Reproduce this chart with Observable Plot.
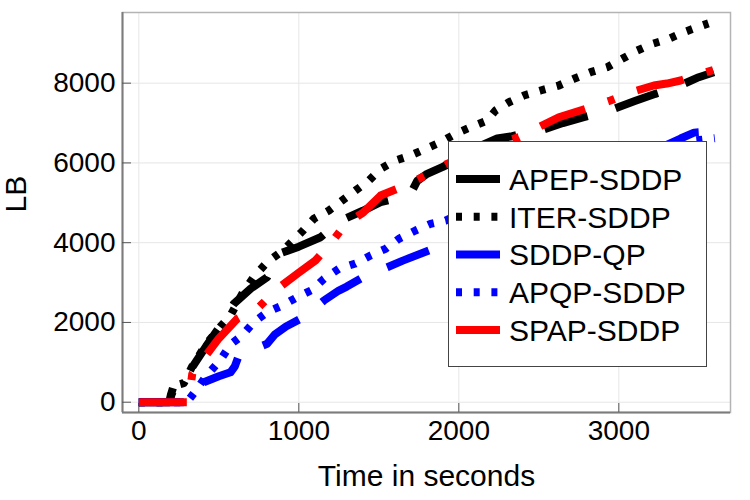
<!DOCTYPE html>
<html><head><meta charset="utf-8">
<script src="https://cdn.jsdelivr.net/npm/d3@7"></script>
<script src="https://cdn.jsdelivr.net/npm/@observablehq/plot@0.6"></script>
<style>
body{margin:0;background:#fff;font-family:"Liberation Sans",Arial,sans-serif;}
#wrap{position:relative;width:750px;height:500px;overflow:hidden;}
#legend{position:absolute;left:448px;top:141px;width:257px;height:224px;background:#fff;border:1.5px solid #444;}
</style></head><body><div id="wrap"></div>
<script>
const seriesNames = ["APEP-SDDP", "ITER-SDDP", "SDDP-QP", "APQP-SDDP", "SPAP-SDDP"];
const seriesColors = ["#000000", "#000000", "#0000ff", "#0000ff", "#ff0000"];
const seriesDash = ["45,29", "6,11.7", "45,29", "6,11.7", "48,24,7,24"];

const xTicks = [0, 1000, 2000, 3000];
const yTicks = [0, 2000, 4000, 6000, 8000];

const apepT = [0,190,200,215,260,334,420,511,550,594,700,802,840,876,1000,1136,1200,1261,1400,1511,1600,1698,1740,1802,1900,2000,2120,2240,2323,2420,2511,2650,2781,2880,2969,3100,3229,3320,3406,3500,3594];
const apepV = [0,0,180,380,560,878,1400,1923,2200,2467,2850,3134,3450,3720,3900,4137,4350,4556,4800,5015,5100,5225,5550,5727,5900,6100,6400,6612,6662,6750,6813,7000,7146,7250,7357,7550,7733,7850,7984,8150,8275];

const iterT = [0,190,205,230,281,334,420,511,573,650,720,802,900,1021,1094,1188,1271,1354,1438,1511,1604,1698,1792,1886,1979,2073,2177,2229,2313,2406,2511,2625,2719,2823,2927,3021,3115,3209,3313,3406,3521,3560];
const iterV = [0,0,200,420,476,900,1450,1900,2174,2750,3150,3510,3800,4280,4599,4807,5058,5308,5559,5852,6061,6186,6354,6520,6730,6896,7064,7314,7522,7690,7816,7941,8109,8275,8400,8610,8819,8986,9112,9278,9446,9500];

const qpT = [0,300,330,406,500,573,600,625,700,802,850,920,1011,1080,1157,1250,1300,1386,1470,1553,1650,1813,1950,2100,2300,2500,2700,2900,3100,3300,3386,3470,3511,3540];
const qpV = [0,0,200,502,650,750,900,1171,1300,1464,1700,1900,2091,2300,2550,2800,2900,3095,3250,3385,3550,3804,4100,4500,4900,5300,5650,5950,6200,6450,6612,6760,6770,6720];

const apqpT = [0,300,344,420,511,573,646,719,802,896,990,1084,1157,1250,1354,1448,1542,1625,1729,1823,1917,2100,2300,2500,2700,2900,3100,3300,3450,3600];
const apqpV = [0,0,226,650,1063,1447,1672,2006,2257,2425,2633,2818,3094,3345,3478,3678,3846,4097,4306,4473,4556,4900,5300,5650,5950,6150,6300,6450,6550,6620];

const spapT = [0,310,334,427,500,615,750,865,1000,1104,1198,1292,1400,1511,1667,1813,1927,2050,2200,2375,2500,2625,2792,2948,3100,3219,3300,3386,3480,3594];
const spapV = [0,0,712,1213,1600,2091,2382,2843,3250,3553,3971,4473,4750,5183,5434,5727,5978,6200,6450,6645,6900,7146,7357,7565,7800,7941,7990,8067,8200,8330];

const seriesT = [apepT, iterT, qpT, apqpT, spapT];
const seriesV = [apepV, iterV, qpV, apqpV, spapV];

const xDomain = [-102, 3698];
const yDomain = [-258, 9772];

const lineMarks = seriesNames.map((name, i) =>
  Plot.line(seriesT[i].map((t, j) => ({t, v: seriesV[i][j], name})), {
    x: "t", y: "v", stroke: seriesColors[i], strokeWidth: 8,
    strokeDasharray: seriesDash[i], strokeLinecap: "butt", strokeLinejoin: "round"
  })
);

const chart = Plot.plot({
  width: 750, height: 500,
  marginLeft: 122, marginRight: 20, marginTop: 12, marginBottom: 88,
  style: {fontFamily: "Liberation Sans, Arial, sans-serif", fontSize: "28px", color: "#000", background: "#fff"},
  x: {domain: xDomain, label: null},
  y: {domain: yDomain, label: null},
  marks: [
    Plot.gridX(xTicks, {stroke: "#e6e6e6", strokeOpacity: 1, strokeWidth: 1}),
    Plot.gridY(yTicks, {stroke: "#e6e6e6", strokeOpacity: 1, strokeWidth: 1}),
    Plot.frame({stroke: "#b4b4b4", strokeWidth: 1.5}),
    Plot.ruleX([xDomain[0]], {stroke: "#7c7c7c", strokeWidth: 2}),
    Plot.ruleY([yDomain[0]], {stroke: "#7c7c7c", strokeWidth: 2}),
    Plot.axisX(xTicks, {tickSize: 9, dy: -9, tickFormat: () => "", stroke: "#555", label: null}),
    Plot.axisY(yTicks, {tickSize: 9, dx: 9, tickFormat: () => "", stroke: "#555", label: null}),
    Plot.axisX(xTicks, {tickSize: 0, tickPadding: 8, fontSize: 28, label: null, tickFormat: d => String(d)}),
    Plot.axisY(yTicks, {tickSize: 0, tickPadding: 7, fontSize: 28, label: null, tickFormat: d => String(d)}),
    ...lineMarks,
    Plot.text(["LB"], {frameAnchor: "left", dx: -106, rotate: -90, fontSize: 30, fill: "#000"}),
    Plot.text(["Time in seconds"], {frameAnchor: "bottom", dy: 73, fontSize: 30, fill: "#000"})
  ]
});

const wrap = document.getElementById("wrap");
wrap.appendChild(chart);

// legend
const legend = d3.select(wrap).append("div").attr("id", "legend");
const lsvg = legend.append("svg").attr("width", 257).attr("height", 224);
seriesNames.forEach((name, i) => {
  const cy = 37 + i * 37.75;
  lsvg.append("line")
    .attr("x1", 7).attr("x2", 51).attr("y1", cy).attr("y2", cy)
    .attr("stroke", seriesColors[i]).attr("stroke-width", 8)
    .attr("stroke-dasharray", seriesDash[i]).attr("stroke-linecap", "butt");
  lsvg.append("text")
    .attr("x", 60).attr("y", cy).attr("dy", "0.36em")
    .attr("font-family", "Liberation Sans, Arial, sans-serif")
    .attr("font-size", 30).attr("fill", "#000")
    .text(name);
});
</script></body></html>
